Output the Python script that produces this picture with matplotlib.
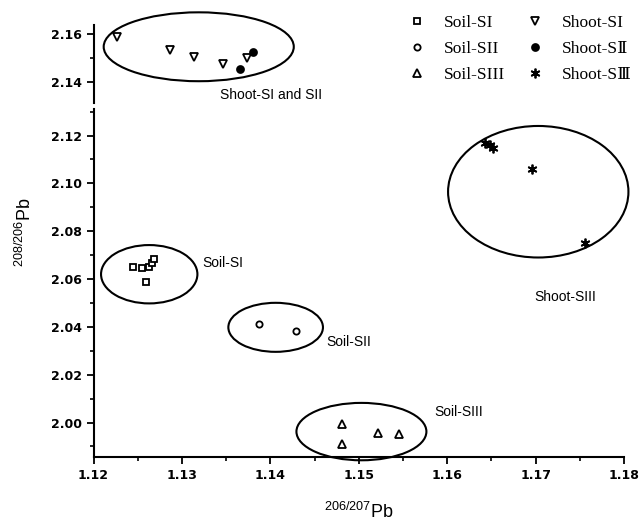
import matplotlib.pyplot as plt
from matplotlib.patches import Ellipse
from matplotlib.ticker import MultipleLocator

plt.rcParams['font.family'] = ['Liberation Sans', 'DejaVu Sans']
plt.rcParams['mathtext.fontset'] = 'custom'
plt.rcParams['mathtext.rm'] = 'Liberation Sans'

# 206/207Pb (x) and 208/206Pb (y)
soil_s1_x = [1.1245, 1.1255, 1.1263, 1.1266, 1.1268, 1.1259]
soil_s1_y = [2.0651, 2.0646, 2.0651, 2.0668, 2.0682, 2.0588]
soil_s2_x = [1.1387, 1.1429]
soil_s2_y = [2.0410, 2.0383]
soil_s3_x = [1.1481, 1.1522, 1.1545, 1.1481]
soil_s3_y = [1.9993, 1.9956, 1.9954, 1.9912]
shoot_s1_x = [1.1226, 1.1286, 1.1314, 1.1346, 1.1374]
shoot_s1_y = [2.1587, 2.1534, 2.1506, 2.1474, 2.1498]
shoot_s2_x = [1.1380, 1.1366]
shoot_s2_y = [2.1526, 2.1452]
shoot_s3_x = [1.1643, 1.1652, 1.1648, 1.1696, 1.1756]
shoot_s3_y = [2.1170, 2.1146, 2.1160, 2.1059, 2.0749]

# group ellipses: centre x, centre y, width, height
groups = ['Shoot-SI and SII', 'Soil-SI', 'Soil-SII', 'Soil-SIII', 'Shoot-SIII']
ell_cx = [1.1319, 1.1263, 1.1406, 1.1503, 1.1703]
ell_cy = [2.1547, 2.0620, 2.0398, 1.9962, 2.0965]
ell_w = [0.0215, 0.0109, 0.0107, 0.0147, 0.0204]
ell_h = [0.0288, 0.0244, 0.0205, 0.0240, 0.0550]
lab_x = [1.1343, 1.1323, 1.14635, 1.1586, 1.1699]
lab_y = [2.1347, 2.0667, 2.0337, 2.0043, 2.0526]

fig = plt.figure(figsize=(6.41, 5.23), dpi=100)
ax_lo = fig.add_axes([0.1459, 0.1254, 0.8276, 0.6662])
ax_hi = fig.add_axes([0.1459, 0.8031, 0.8276, 0.1491], sharex=ax_lo)
ax_lo.set_ylim(1.9854, 2.1311)
ax_hi.set_ylim(2.1312, 2.1638)
ax_lo.set_xlim(1.12, 1.18)

mk = dict(linestyle='none', markeredgecolor='black', markeredgewidth=1.3)
h1, = ax_lo.plot(soil_s1_x, soil_s1_y, marker='s', markersize=4.5,
                 markerfacecolor='white', label='Soil-SI', **mk)
h2, = ax_lo.plot(soil_s2_x, soil_s2_y, marker='o', markersize=4.5,
                 markerfacecolor='white', label='Soil-SII', **mk)
h3, = ax_lo.plot(soil_s3_x, soil_s3_y, marker='^', markersize=5.5,
                 markerfacecolor='white', label='Soil-SIII', **mk)
h4, = ax_hi.plot(shoot_s1_x, shoot_s1_y, marker='v', markersize=6,
                 markerfacecolor='white', label='Shoot-SI', **mk)
h5, = ax_hi.plot(shoot_s2_x, shoot_s2_y, marker='o', markersize=5,
                 markerfacecolor='black', label='Shoot-S\u2161', **mk)
h6, = ax_lo.plot(shoot_s3_x, shoot_s3_y, marker=(6, 2, 0), markersize=7,
                 label='Shoot-S\u2162', **mk)

for i, name in enumerate(groups):
    ax = ax_hi if i == 0 else ax_lo
    ax.add_patch(Ellipse((ell_cx[i], ell_cy[i]), ell_w[i], ell_h[i],
                         fill=False, edgecolor='black', linewidth=1.5,
                         clip_on=False))
    ax.text(lab_x[i], lab_y[i], name, fontsize=10, ha='left', va='center')

for ax in (ax_lo, ax_hi):
    ax.spines['top'].set_visible(False)
    ax.spines['right'].set_visible(False)
    ax.spines['left'].set_linewidth(1.5)
    ax.spines['bottom'].set_linewidth(1.5)
    ax.yaxis.set_major_locator(MultipleLocator(0.02))
    ax.yaxis.set_minor_locator(MultipleLocator(0.01))
    ax.tick_params(which='major', direction='out', length=5, width=1.3,
                   labelsize=9)
    ax.tick_params(which='minor', direction='out', length=3, width=1.2)
    ax.yaxis.set_major_formatter(plt.FormatStrFormatter('%.2f'))

ax_hi.spines['bottom'].set_visible(False)
ax_hi.tick_params(axis='x', which='both', bottom=False, labelbottom=False)
ax_lo.xaxis.set_major_locator(MultipleLocator(0.01))
ax_lo.xaxis.set_minor_locator(MultipleLocator(0.005))
ax_lo.xaxis.set_major_formatter(plt.FormatStrFormatter('%.2f'))
for t in ax_lo.get_xticklabels() + ax_lo.get_yticklabels() + ax_hi.get_yticklabels():
    t.set_fontweight('bold')
    t.set_family('DejaVu Sans')

ax_lo.set_xlabel(r'$\mathregular{^{206/207}}$Pb', fontsize=13, labelpad=14)
fig.text(0.039, 0.556, r'$\mathregular{^{208/206}}$Pb', fontsize=13,
         rotation=90, ha='center', va='center')

leg = fig.legend(handles=[h1, h2, h3, h4, h5, h6], ncol=2, frameon=False,
                 loc='upper left', bbox_to_anchor=(0.612, 1.002),
                 prop={'family': ['Liberation Serif', 'DejaVu Serif'],
                       'size': 12.5},
                 handlelength=1.0, handletextpad=1.05, columnspacing=1.25,
                 labelspacing=0.57)

fig.savefig('out.png', dpi=100)
